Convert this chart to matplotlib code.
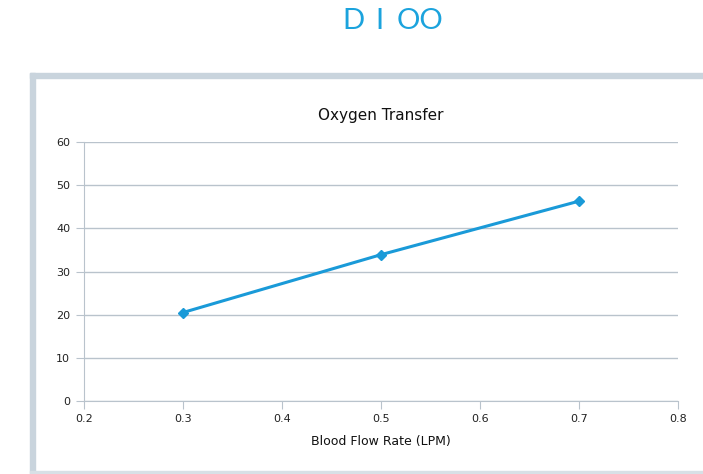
import matplotlib.pyplot as plt
from matplotlib.patches import Rectangle

# data
flow_rate = [0.3, 0.5, 0.7]
oxygen = [20.5, 33.9, 46.3]
x_ticks = [0.2, 0.3, 0.4, 0.5, 0.6, 0.7, 0.8]
y_ticks = [0, 10, 20, 30, 40, 50, 60]

W, H = 703, 474
fig = plt.figure(figsize=(W / 100, H / 100), dpi=100)

# light frame around the chart
frame_col = '#c9d4dd'
fig.patches.append(Rectangle((30 / W, 0), 5 / W, 1 - 73 / H, transform=fig.transFigure,
                             color=frame_col, zorder=0))
fig.patches.append(Rectangle((30 / W, 1 - 78 / H), 1, 5 / H, transform=fig.transFigure,
                             color=frame_col, zorder=0))
fig.patches.append(Rectangle((30 / W, 1 - 473 / H), 1, 2 / H, transform=fig.transFigure,
                             color='#d8e0e6', zorder=0))

# big heading, letters placed one by one for the wide spacing
for txt, xc in [('D', 353), ('I', 379), ('OO', 420)]:
    fig.text(xc / W, 1 - 21 / H, txt, ha='center', va='center', fontsize=21,
             color='#1ba3dd', family='Lato', fontweight='normal')

ax = fig.add_axes([84 / W, 1 - 401 / H, (678 - 84) / W, (401 - 142) / H])
ax.plot(flow_rate, oxygen, color='#1a9ad8', lw=2.2, marker='D', ms=5, zorder=3)

ax.set_xlim(0.2, 0.8)
ax.set_ylim(0, 60)
ax.set_xticks(x_ticks)
ax.set_yticks(y_ticks)
ax.set_xticklabels([f'{v:.1f}' for v in x_ticks])

grid_col = '#b9c3cc'
ax.grid(axis='y', color=grid_col, lw=1)
ax.set_axisbelow(True)
for s in ['top', 'right']:
    ax.spines[s].set_visible(False)
for s in ['left', 'bottom']:
    ax.spines[s].set_color(grid_col)
ax.tick_params(axis='both', color=grid_col, length=6, labelsize=8, labelcolor='#222222')
ax.tick_params(axis='x', pad=3)
ax.tick_params(axis='y', pad=4)

ax.set_title('Oxygen Transfer', fontsize=11, pad=16, color='#111111')
ax.set_xlabel('Blood Flow Rate (LPM)', fontsize=9, labelpad=8, color='#111111')

fig.savefig('out.png', dpi=100)
